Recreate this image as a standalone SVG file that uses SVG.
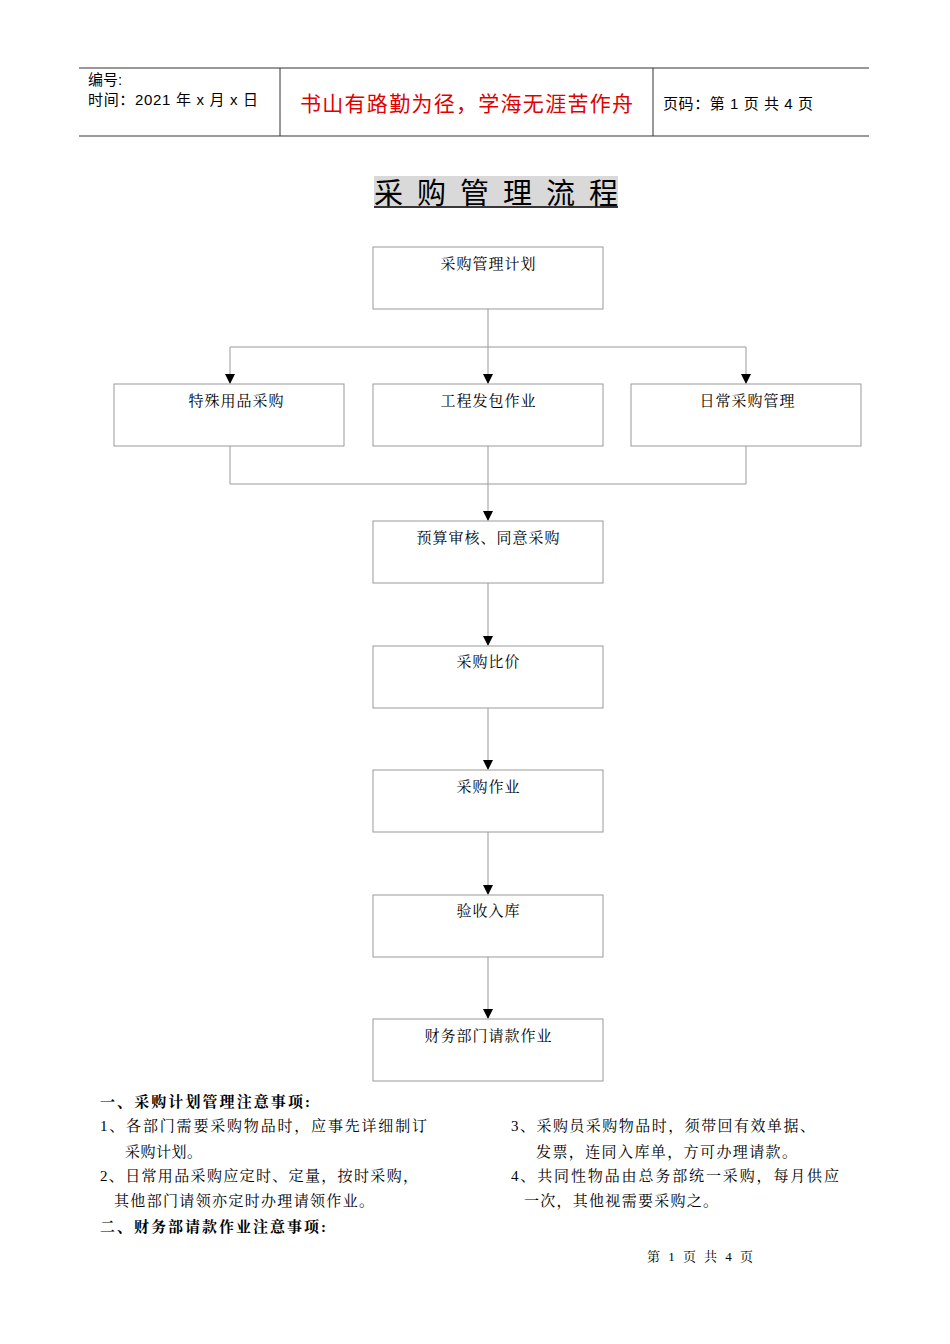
<svg xmlns="http://www.w3.org/2000/svg" width="950" height="1344" viewBox="0 0 950 1344">
<style>
.t{font-family:"Liberation Sans","Noto Sans CJK SC",sans-serif;font-size:15px;fill:#000}
.s{font-family:"Liberation Serif","Noto Serif CJK SC","Noto Sans CJK SC",serif;font-size:15px;fill:#000}
.b{font-weight:bold}
.box{fill:#fff;stroke:#999;stroke-width:1}
.ln{stroke:#999;stroke-width:1;fill:none}
</style>
<defs><marker id="a" markerWidth="10" markerHeight="10" refX="9" refY="5" orient="auto" markerUnits="userSpaceOnUse"><path d="M0,0L10,5L0,10z" fill="#000"/></marker></defs>
<g id="header">
<line x1="79" y1="68" x2="869" y2="68" stroke="#333"/>
<line x1="79" y1="136" x2="869" y2="136" stroke="#777" stroke-width="1.5"/>
<line x1="280" y1="68" x2="280" y2="136" stroke="#333"/>
<line x1="653" y1="68" x2="653" y2="136" stroke="#333"/>
<text class="t" x="88" y="85">编号:</text>
<text class="t" x="88" y="105" textLength="170">时间：2021 年 x 月 x 日</text>
<text class="t" x="300" y="111" style="font-size:21px;fill:#e00000" textLength="333">书山有路勤为径，学海无涯苦作舟</text>
<text class="t" x="663" y="109" textLength="150">页码：第 1 页  共 4 页</text>
</g>
<g id="title">
<rect x="374" y="176" width="244" height="32" fill="#d9d9d9"/>
<text class="t" x="374" y="204" style="font-size:29px" textLength="244">采 购 管 理 流 程</text>
<line x1="374" y1="207" x2="618" y2="207" stroke="#000" stroke-width="1.5"/>
</g>
<g id="connectors">
<line class="ln" x1="488" y1="309" x2="488" y2="383" marker-end="url(#a)"/>
<polyline class="ln" points="230,383 230,347 746,347 746,383" />
<line x1="230" y1="374" x2="230" y2="383" stroke="#999" marker-end="url(#a)"/>
<line x1="746" y1="374" x2="746" y2="383" stroke="#999" marker-end="url(#a)"/>
<polyline class="ln" points="230,446 230,484 746,484 746,446"/>
<line class="ln" x1="488" y1="446" x2="488" y2="520" marker-end="url(#a)"/>
<line class="ln" x1="488" y1="583" x2="488" y2="645" marker-end="url(#a)"/>
<line class="ln" x1="488" y1="708" x2="488" y2="769" marker-end="url(#a)"/>
<line class="ln" x1="488" y1="832" x2="488" y2="894" marker-end="url(#a)"/>
<line class="ln" x1="488" y1="957" x2="488" y2="1018" marker-end="url(#a)"/>
</g>
<g id="n1"><rect class="box" x="373" y="247" width="230" height="62"/><text class="s" x="488" y="269" text-anchor="middle" textLength="95">采购管理计划</text></g>
<g id="n2"><rect class="box" x="114" y="384" width="230" height="62"/><text class="s" x="236" y="406" text-anchor="middle" textLength="95">特殊用品采购</text></g>
<g id="n3"><rect class="box" x="373" y="384" width="230" height="62"/><text class="s" x="488" y="406" text-anchor="middle" textLength="95">工程发包作业</text></g>
<g id="n4"><rect class="box" x="631" y="384" width="230" height="62"/><text class="s" x="747" y="406" text-anchor="middle" textLength="95">日常采购管理</text></g>
<g id="n5"><rect class="box" x="373" y="521" width="230" height="62"/><text class="s" x="488" y="543" text-anchor="middle" textLength="143">预算审核、同意采购</text></g>
<g id="n6"><rect class="box" x="373" y="646" width="230" height="62"/><text class="s" x="488" y="667" text-anchor="middle" textLength="63">采购比价</text></g>
<g id="n7"><rect class="box" x="373" y="770" width="230" height="62"/><text class="s" x="488" y="792" text-anchor="middle" textLength="63">采购作业</text></g>
<g id="n8"><rect class="box" x="373" y="895" width="230" height="62"/><text class="s" x="488" y="916" text-anchor="middle" textLength="63">验收入库</text></g>
<g id="n9"><rect class="box" x="373" y="1019" width="230" height="62"/><text class="s" x="488" y="1041" text-anchor="middle" textLength="127">财务部门请款作业</text></g>
<g id="notes">
<text class="s b" x="100" y="1107" textLength="210">一、采购计划管理注意事项:</text>
<text class="s" x="100" y="1131" textLength="327">1、各部门需要采购物品时，应事先详细制订</text>
<text class="s" x="125" y="1157" textLength="77">采购计划。</text>
<text class="s" x="100" y="1181" textLength="318">2、日常用品采购应定时、定量，按时采购，</text>
<text class="s" x="114" y="1206" textLength="260">其他部门请领亦定时办理请领作业。</text>
<text class="s b" x="100" y="1232" textLength="226">二、财务部请款作业注意事项:</text>
<text class="s" x="511" y="1131" textLength="304">3、采购员采购物品时，须带回有效单据、</text>
<text class="s" x="536" y="1157" textLength="261">发票，连同入库单，方可办理请款。</text>
<text class="s" x="511" y="1181" textLength="328">4、共同性物品由总务部统一采购，每月供应</text>
<text class="s" x="524" y="1206" textLength="194">一次，其他视需要采购之。</text>
<text class="s" x="647" y="1261" style="font-size:13px" textLength="106">第 1 页 共 4 页</text>
</g>
</svg>
